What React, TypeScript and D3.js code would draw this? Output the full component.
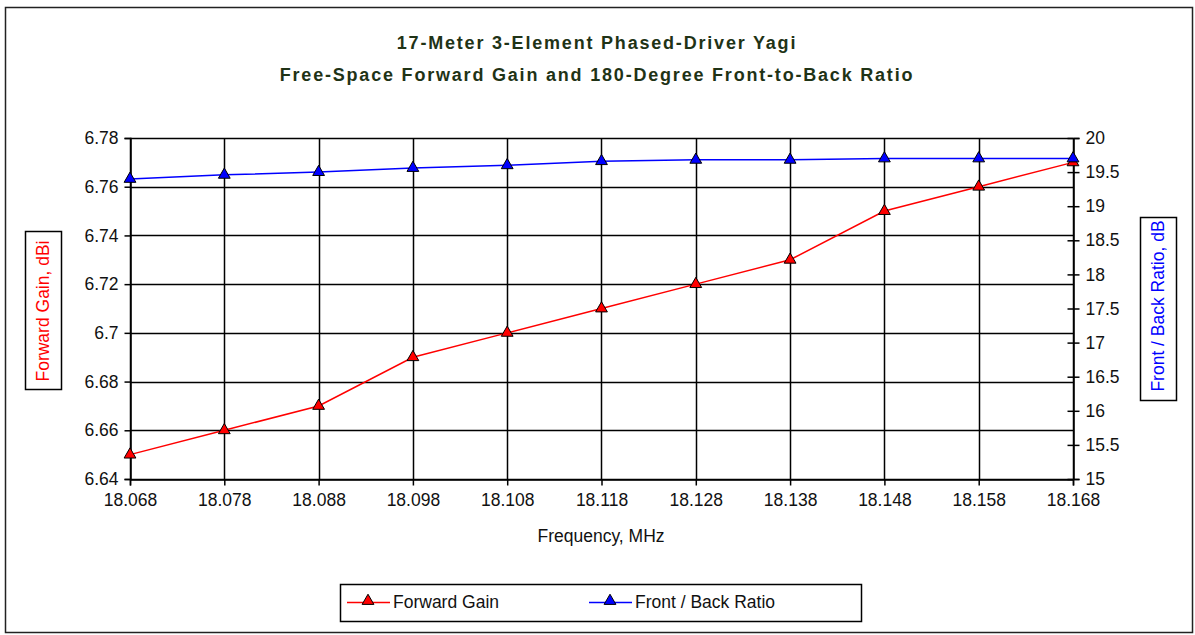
import { useEffect, useRef } from 'react';
import * as d3 from 'd3';

const frequencies = [18.068, 18.078, 18.088, 18.098, 18.108, 18.118, 18.128, 18.138, 18.148, 18.158, 18.168];
const forwardGain = [6.65, 6.66, 6.67, 6.69, 6.7, 6.71, 6.72, 6.73, 6.75, 6.76, 6.77];
const frontBack = [19.4, 19.46, 19.5, 19.56, 19.6, 19.66, 19.68, 19.68, 19.7, 19.7, 19.7];
const gainTicks = [6.64, 6.66, 6.68, 6.7, 6.72, 6.74, 6.76, 6.78];
const fbTicks = [15, 15.5, 16, 16.5, 17, 17.5, 18, 18.5, 19, 19.5, 20];
const titleLines = ['17-Meter 3-Element Phased-Driver Yagi', 'Free-Space Forward Gain and 180-Degree Front-to-Back Ratio'];

const FONT = '"Liberation Sans", Arial, sans-serif';

export default function App() {
  const svgRef = useRef<SVGSVGElement>(null);

  useEffect(() => {
    document.body.style.margin = '0';
    if (!svgRef.current) return;
    const svg = d3.select(svgRef.current);
    svg.selectAll('*').remove();

    const left = 130, right = 1073, top = 138, bottom = 479;

    const x = d3.scaleLinear().domain([18.068, 18.168]).range([left, right]);
    const yL = d3.scaleLinear().domain([6.64, 6.78]).range([bottom, top]);
    const yR = d3.scaleLinear().domain([15, 20]).range([bottom, top]);

    svg.append('rect').attr('width', 1195).attr('height', 635).attr('fill', '#fff');
    svg.append('rect').attr('x', 5.5).attr('y', 7.5).attr('width', 1187).attr('height', 625)
      .attr('fill', 'none').attr('stroke', '#222').attr('stroke-width', 1.5);

    // title
    svg.append('g').selectAll('text').data(titleLines).join('text')
      .attr('x', 597).attr('y', (_, i) => 49 + i * 32)
      .attr('text-anchor', 'middle').attr('font-family', FONT).attr('font-weight', 'bold')
      .attr('font-size', 18).attr('letter-spacing', 1.8).attr('fill', '#1f3316')
      .text((d) => d);

    // grid
    const g = svg.append('g');
    g.selectAll('.hg').data(gainTicks).join('line')
      .attr('x1', left).attr('x2', right).attr('y1', (d) => Math.round(yL(d)) + 0.5).attr('y2', (d) => Math.round(yL(d)) + 0.5)
      .attr('stroke', '#000').attr('stroke-width', 1.5);
    g.selectAll('.vg').data(frequencies).join('line')
      .attr('x1', (d) => Math.round(x(d)) + 0.5).attr('x2', (d) => Math.round(x(d)) + 0.5).attr('y1', top).attr('y2', bottom)
      .attr('stroke', '#000').attr('stroke-width', 1.5);

    // left axis
    const la = svg.append('g').attr('transform', `translate(${left + 0.5},0)`)
      .call(d3.axisLeft(yL).tickValues(gainTicks).tickSize(6).tickPadding(6).tickFormat((d) => String(+d)));
    // bottom axis
    const ba = svg.append('g').attr('transform', `translate(0,${bottom + 0.5})`)
      .call(d3.axisBottom(x).tickValues(frequencies).tickSize(6).tickPadding(8).tickFormat(d3.format('.3f')));
    // right axis
    const ra = svg.append('g').attr('transform', `translate(${right + 0.5},0)`)
      .call(d3.axisRight(yR).tickValues(fbTicks).tickSize(6).tickPadding(6).tickFormat((d) => String(+d)));
    ra.selectAll('.tick line').attr('x1', -6);

    [la, ba, ra].forEach((a) => {
      a.selectAll('.domain').attr('stroke', '#000').attr('stroke-width', 1.5);
      a.selectAll('.tick line').attr('stroke', '#000').attr('stroke-width', 1.5);
      a.selectAll('text').attr('fill', '#111').attr('font-family', FONT).attr('font-size', 17.5);
    });

    // series
    const tri = d3.symbol().type(d3.symbolTriangle).size(60);
    const series = [
      { vals: forwardGain, y: yL, color: '#ff0000' },
      { vals: frontBack, y: yR, color: '#0000ff' },
    ];
    series.forEach((s) => {
      const line = d3.line<number>().x((_, i) => x(frequencies[i])).y((d) => s.y(d));
      svg.append('path').datum(s.vals).attr('d', line).attr('fill', 'none')
        .attr('stroke', s.color).attr('stroke-width', 1.5);
      svg.append('g').selectAll('path').data(s.vals).join('path')
        .attr('d', tri).attr('transform', (d, i) => `translate(${x(frequencies[i])},${s.y(d)})`)
        .attr('fill', s.color).attr('stroke', '#000').attr('stroke-width', 1);
    });

    // x label
    svg.append('text').attr('x', 601).attr('y', 542).attr('text-anchor', 'middle')
      .attr('font-family', FONT).attr('font-size', 17.5).attr('fill', '#111').text('Frequency, MHz');

    // y labels in boxes
    svg.append('rect').attr('x', 25.5).attr('y', 231.5).attr('width', 36).attr('height', 158)
      .attr('fill', '#fff').attr('stroke', '#000').attr('stroke-width', 1.5);
    svg.append('text').attr('transform', 'translate(49,311) rotate(-90)').attr('text-anchor', 'middle')
      .attr('font-family', FONT).attr('font-size', 17.5).attr('fill', '#ff0000').text('Forward Gain,  dBi');
    svg.append('rect').attr('x', 1140.5).attr('y', 217.5).attr('width', 36).attr('height', 183)
      .attr('fill', '#fff').attr('stroke', '#000').attr('stroke-width', 1.5);
    svg.append('text').attr('transform', 'translate(1164,306) rotate(-90)').attr('text-anchor', 'middle')
      .attr('font-family', FONT).attr('font-size', 17.5).attr('fill', '#0000ff').text('Front / Back Ratio,  dB');

    // legend
    svg.append('rect').attr('x', 340.5).attr('y', 584.5).attr('width', 521).attr('height', 37)
      .attr('fill', '#fff').attr('stroke', '#000').attr('stroke-width', 1.5);
    const legendItems = [
      { label: 'Forward Gain', color: '#ff0000', x0: 347 },
      { label: 'Front / Back Ratio', color: '#0000ff', x0: 589 },
    ];
    legendItems.forEach((it) => {
      svg.append('line').attr('x1', it.x0).attr('x2', it.x0 + 43).attr('y1', 602.5).attr('y2', 602.5)
        .attr('stroke', it.color).attr('stroke-width', 1.5);
      svg.append('path').attr('d', tri).attr('transform', `translate(${it.x0 + 21},601)`)
        .attr('fill', it.color).attr('stroke', '#000').attr('stroke-width', 1);
      svg.append('text').attr('x', it.x0 + 46).attr('y', 608).attr('font-family', FONT).attr('font-size', 17.5)
        .attr('fill', '#111').text(it.label);
    });
  }, []);

  return <svg ref={svgRef} width={1195} height={635} style={{ display: 'block' }} />;
}
